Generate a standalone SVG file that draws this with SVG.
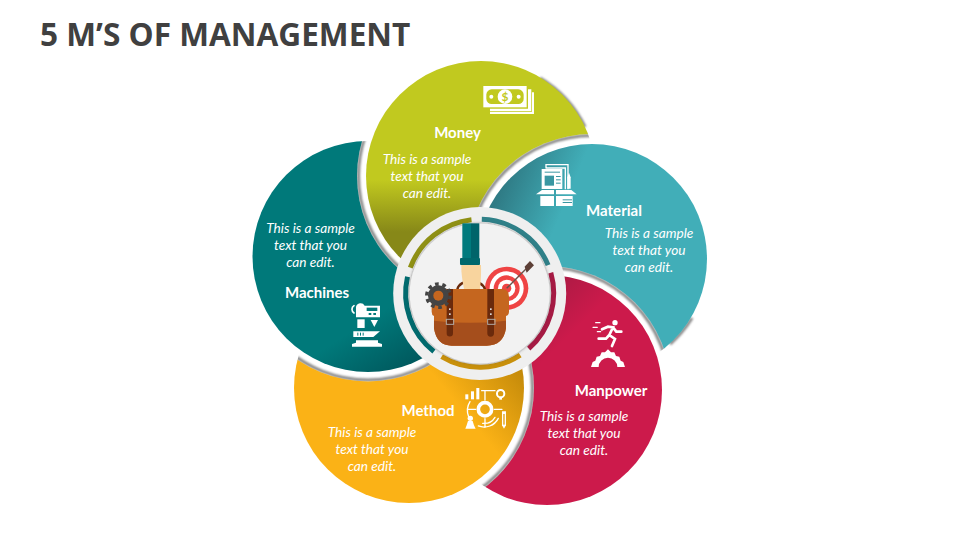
<svg xmlns="http://www.w3.org/2000/svg" width="960" height="540" viewBox="0 0 960 540">
<style>
text{font-family:"Lato","Liberation Sans",sans-serif;fill:#fff;text-anchor:middle}
.t{font-family:"Open Sans","Liberation Sans",sans-serif;font-weight:700;font-size:31.6px;fill:#404040;text-anchor:start}
.l{font-weight:700;font-size:15px}
.b{font-style:italic;font-size:13.7px}
.w{fill:#fff}
.s{fill:none;stroke:#fff;stroke-linecap:round}
.a{fill:none;stroke-width:5}
.c{fill:none;stroke:#858585;stroke-width:3;filter:url(#blur)}
</style>
<defs>
<linearGradient id="gMoney" gradientUnits="userSpaceOnUse" x1="0" y1="180" x2="0" y2="232"><stop offset="0" stop-color="#c1c91f"/><stop offset="1" stop-color="#878818"/></linearGradient>
<linearGradient id="gMaterial" gradientUnits="userSpaceOnUse" x1="550" y1="240" x2="490" y2="215"><stop offset="0" stop-color="#41aeb8"/><stop offset="1" stop-color="#2f7b85"/></linearGradient>
<linearGradient id="gManpower" gradientUnits="userSpaceOnUse" x1="575" y1="330" x2="530" y2="285"><stop offset="0" stop-color="#cc1a4b"/><stop offset="1" stop-color="#a31a42"/></linearGradient>
<linearGradient id="gMethod" gradientUnits="userSpaceOnUse" x1="470" y1="420" x2="525" y2="375"><stop offset="0" stop-color="#fbb216"/><stop offset="1" stop-color="#c48a0a"/></linearGradient>
<linearGradient id="gMachines" gradientUnits="userSpaceOnUse" x1="385" y1="310" x2="420" y2="365"><stop offset="0" stop-color="#00797a"/><stop offset="1" stop-color="#00575c"/></linearGradient>
<mask id="mMoney" maskUnits="userSpaceOnUse" x="0" y="0" width="960" height="540"><rect width="960" height="540" fill="#fff"/><circle cx="592" cy="259" r="125"/></mask>
<mask id="mMaterial" maskUnits="userSpaceOnUse" x="0" y="0" width="960" height="540"><rect width="960" height="540" fill="#fff"/><circle cx="547" cy="390" r="124"/></mask>
<mask id="mManpower" maskUnits="userSpaceOnUse" x="0" y="0" width="960" height="540"><rect width="960" height="540" fill="#fff"/><circle cx="409" cy="388" r="125"/></mask>
<mask id="mMethod" maskUnits="userSpaceOnUse" x="0" y="0" width="960" height="540"><rect width="960" height="540" fill="#fff"/><circle cx="368" cy="256.500" r="125"/></mask>
<mask id="mMachines" maskUnits="userSpaceOnUse" x="0" y="0" width="960" height="540"><rect width="960" height="540" fill="#fff"/><circle cx="481" cy="176" r="124"/></mask>
<clipPath id="cMoney"><circle cx="481" cy="176" r="115"/></clipPath>
<clipPath id="cMaterial"><circle cx="592" cy="259" r="115"/></clipPath>
<clipPath id="cManpower"><circle cx="547" cy="390" r="115"/></clipPath>
<clipPath id="cMethod"><circle cx="409" cy="388" r="115"/></clipPath>
<clipPath id="cMachines"><circle cx="368" cy="256.500" r="115.500"/></clipPath>
<filter id="blur" x="-10%" y="-10%" width="120%" height="120%"><feGaussianBlur stdDeviation="1.100"/></filter>
<filter id="soft" x="-10%" y="-10%" width="120%" height="120%"><feDropShadow dx="0" dy="0" stdDeviation="1.400" flood-color="#444" flood-opacity=".7"/></filter>
</defs>
<rect width="960" height="540" fill="#fff"/>
<text class="t" x="40" y="46">5 M’S OF MANAGEMENT</text>

<g id="node-machines">
<g clip-path="url(#cMachines)"><circle class="c" cx="481" cy="176" r="122.500"/></g>
<circle cx="368" cy="256.500" r="115.500" fill="url(#gMachines)" mask="url(#mMachines)"/>
<text class="b" x="310.500" y="233">This is a sample</text><text class="b" x="310.500" y="250">text that you</text><text class="b" x="310.500" y="267">can edit.</text>
<text class="l" x="317" y="298">Machines</text>
<g transform="translate(250 135) scale(.3333)">
<path class="s" d="M312,512 A13,13 0 0 0 312,534" stroke-width="5"/>
<path class="w" d="M318,516 A14,14 0 0 1 344,512 H390 V547 H318Z"/>
<rect x="350" y="518" width="32" height="10" fill="#00797a"/><rect x="356" y="534" width="8" height="6" fill="#00797a"/><rect x="370" y="534" width="8" height="6" fill="#00797a"/>
<rect class="w" x="322" y="553" width="22" height="26"/><path class="w" d="M362,555H384L373,576Z"/>
<path class="w" d="M310,589H390L370,606H310Z"/><rect x="322" y="593" width="3" height="9" fill="#00797a"/><rect x="330" y="593" width="3" height="9" fill="#00797a"/><rect x="338" y="593" width="3" height="9" fill="#00797a"/>
<path class="w" d="M318,616H384V623L396,627V635H306V627L318,623Z"/>
</g>
</g>

<g id="node-method">
<g clip-path="url(#cMethod)"><circle class="c" cx="368" cy="256.500" r="123.500"/></g>
<circle cx="409" cy="388" r="115" fill="url(#gMethod)" mask="url(#mMethod)"/>
<text class="l" x="428" y="416">Method</text>
<text class="b" x="372" y="437">This is a sample</text><text class="b" x="372" y="454">text that you</text><text class="b" x="372" y="471">can edit.</text>
<g transform="translate(290 350) scale(.3333)">
<rect class="w" x="526" y="133" width="9" height="15"/><rect class="w" x="543" y="124" width="9" height="24"/><rect class="w" x="559" y="114" width="9" height="34"/>
<circle cx="585" cy="178" r="20" fill="none" stroke="#fff" stroke-width="11"/>
<path class="s" stroke-width="4" d="M585,122V150M585,206V232M535,178H557M613,178H636M575,122H615M540,155A50,50 0 0 0 536,200M565,228A48,48 0 0 0 625,205M578,220A38,38 0 0 0 615,202"/>
<circle cx="632" cy="131" r="11" fill="none" stroke="#fff" stroke-width="6"/><rect class="w" x="628" y="142" width="8" height="7"/>
<path class="w" d="M636,184H648V226L642,236L636,226Z"/><rect x="640" y="192" width="4" height="32" fill="#e2a012"/>
<circle class="w" cx="541" cy="205" r="8"/><path class="w" d="M534,213H548L552,226L557,236H526L530,226Z"/>
</g>
</g>

<g id="node-manpower">
<g clip-path="url(#cManpower)"><circle class="c" cx="409" cy="388" r="123.500"/></g>
<circle cx="547" cy="390" r="115" fill="url(#gManpower)" mask="url(#mManpower)"/>
<text class="l" x="611" y="396">Manpower</text>
<text class="b" x="584" y="421">This is a sample</text><text class="b" x="584" y="438">text that you</text><text class="b" x="584" y="455">can edit.</text>
<g transform="translate(480 270) scale(.3333)">
<circle class="w" cx="405" cy="158" r="8"/>
<path class="s" stroke-width="8" d="M366,178L384,170L399,172L388,195L405,207L396,228M399,172L409,185H424M388,195L378,206H356"/>
<path class="s" stroke-width="3.500" d="M347,158H360M339,172H352M352,185H362"/>
<path class="w" d="M333,291L338,276L346,272L350,260L360,258L365,247L375,247L384,238L393,247L403,247L408,258L418,260L422,272L430,276L435,291H412A28,28 0 0 0 356,291Z"/>
</g>
</g>

<g id="node-material">
<g clip-path="url(#cMaterial)"><circle class="c" cx="547" cy="390" r="122.500"/></g>
<path class="c" d="M692,318A115.500,115.500 0 0 1 670,344"/>
<circle cx="592" cy="259" r="115" fill="url(#gMaterial)" mask="url(#mMaterial)"/>
<text class="l" x="614" y="216">Material</text>
<text class="b" x="649" y="238">This is a sample</text><text class="b" x="649" y="255">text that you</text><text class="b" x="649" y="272">can edit.</text>
<g transform="translate(480 140) scale(.3333)">
<path class="s" stroke-width="4" d="M198,84V74H264V146M200,84H256V146"/>
<rect class="w" x="185" y="87" width="62" height="60"/><rect x="194" y="107" width="28" height="30" fill="#3a97a2"/>
<rect x="228" y="108" width="14" height="3" fill="#3a97a2"/><rect x="228" y="118" width="14" height="3" fill="#3a97a2"/><rect x="228" y="128" width="14" height="3" fill="#3a97a2"/><rect x="194" y="95" width="46" height="3" fill="#3a97a2"/>
<path class="w" d="M262,146V112L267,98L272,112V146Z"/>
<path class="w" d="M168,163L186,150H222V163ZM228,150H274L290,163H228Z"/>
<rect class="w" x="181" y="168" width="41" height="30"/><rect class="w" x="228" y="168" width="50" height="30"/>
<rect x="248" y="178" width="28" height="3" fill="#3a97a2"/><rect x="248" y="186" width="28" height="3" fill="#3a97a2"/>
</g>
</g>

<g id="node-money">
<g clip-path="url(#cMoney)"><circle class="c" cx="592" cy="259" r="123.500"/></g>
<path class="c" d="M540,78A115.500,115.500 0 0 1 585,127"/>
<circle cx="481" cy="176" r="115" fill="url(#gMoney)" mask="url(#mMoney)"/>
<text class="l" x="457.500" y="138">Money</text>
<text class="b" x="427" y="164">This is a sample</text><text class="b" x="427" y="181">text that you</text><text class="b" x="427" y="198">can edit.</text>
<g transform="translate(350 55) scale(.3333)">
<rect class="w" x="400" y="93" width="130" height="64"/>
<rect x="409" y="103" width="112" height="44" rx="16" fill="#c1c91f"/>
<circle class="w" cx="465" cy="125" r="22"/><circle class="w" cx="424" cy="125" r="6"/><circle class="w" cx="506" cy="125" r="6"/>
<text x="465" y="138" style="font-size:36px;font-weight:700;fill:#c1c91f">$</text>
<path class="w" d="M534,103H544V168H420V161H534ZM546,112H552V177H420V170H546Z"/>
</g>
</g>

<g id="node-center">
<circle cx="479.700" cy="293.500" r="86.500" fill="#efefef"/>
<g>
<path class="a" stroke="#8f9014" d="M410.300,267.700A74,74 0 0 1 471.500,219.800"/>
<path class="a" stroke="#2f8088" d="M481.800,219.300A74,74 0 0 1 548.100,265.100"/>
<path class="a" stroke="#a51a43" d="M550.800,272.800A74,74 0 0 1 528.700,348.700"/>
<path class="a" stroke="#c8900b" d="M520.200,355.200A74,74 0 0 1 441.600,356.700"/>
<path class="a" stroke="#006a6e" d="M433.900,351.500A74,74 0 0 1 407.500,276.800"/>
</g>
<circle cx="479.700" cy="293.500" r="70" fill="#f2f2f2" filter="url(#soft)"/>
<g transform="translate(380 200) scale(.3333)">
<circle cx="380" cy="265" r="65" fill="#ef4444"/><circle cx="380" cy="265" r="51" fill="#fff"/><circle cx="380" cy="265" r="39" fill="#ef4444"/><circle cx="380" cy="265" r="26" fill="#fff"/><circle cx="380" cy="265" r="14" fill="#ef4444"/>
<path d="M380,265L440,205" stroke="#6b5148" stroke-width="4"/><path d="M428,206L450,183L462,196L440,218L434,200Z" fill="#5d4037"/>
<rect x="247" y="70" width="26" height="106" fill="#007a7d"/><rect x="273" y="70" width="25" height="106" fill="#00646a"/>
<path d="M232,268C240,235 305,235 315,268" fill="none" stroke="#6a2a0c" stroke-width="7"/>
<path d="M244,195H303C304,225 302,250 300,267H252C248,245 243,220 244,195Z" fill="#f8d49e"/>
<rect x="240" y="174" width="60" height="21" rx="3" fill="#00686c"/>
<path d="M177,267H367Q387,267 387,290V335Q387,345 378,348V385Q370,437 320,437H215Q170,437 162,385V348Q155,345 155,335V290Z" fill="#c5661f"/>
<path d="M162,362Q270,375 378,362V385Q370,437 320,437H215Q170,437 162,385Z" fill="#a54e1c"/>
<path d="M200,267H219V400A9.500,9.500 0 0 1 200,400ZM322,267H342V400A10,10 0 0 1 322,400Z" fill="#6a2a0c"/>
<g fill="none" stroke="#b0aaa6" stroke-width="3"><rect x="199" y="358" width="22" height="15"/><rect x="323" y="358" width="22" height="15"/></g>
<g fill="#ddd"><rect x="207" y="325" width="5" height="5"/><rect x="207" y="340" width="5" height="5"/><rect x="330" y="325" width="5" height="5"/><rect x="330" y="340" width="5" height="5"/></g>
<circle cx="175" cy="287" r="31" fill="#444"/>
<circle cx="175" cy="287" r="35" fill="none" stroke="#444" stroke-width="10" stroke-dasharray="11 11"/>
<circle cx="175" cy="287" r="15" fill="#c5661f"/>
</g>
</g>
</svg>
